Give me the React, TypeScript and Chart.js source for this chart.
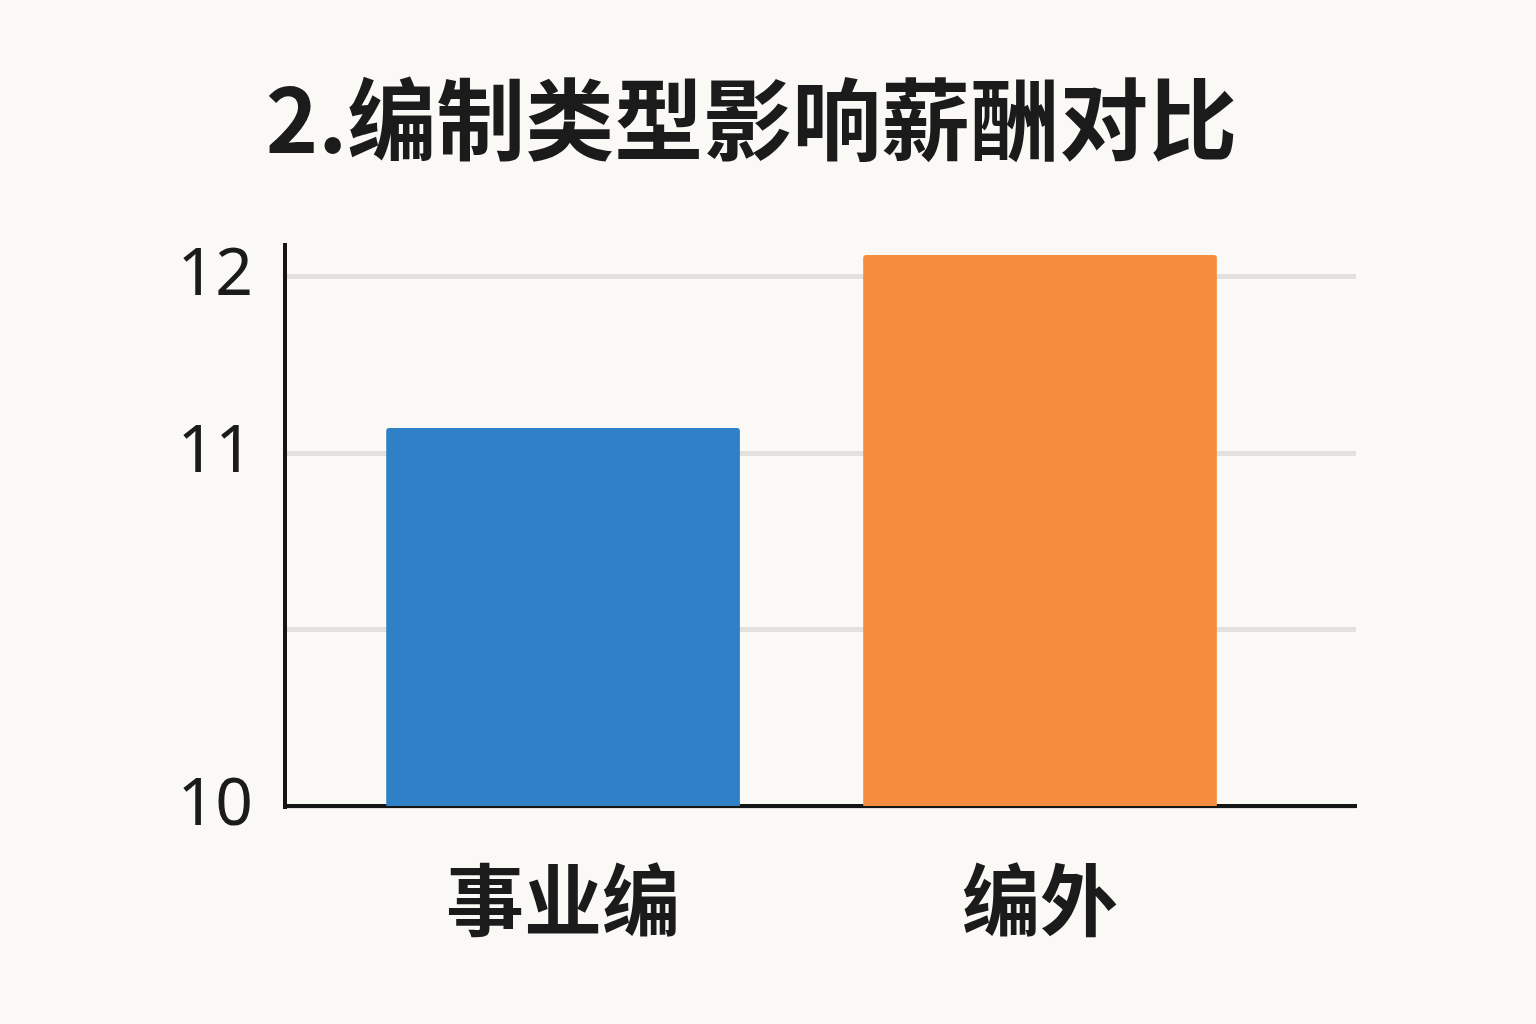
import { useEffect, useRef } from 'react'
import { Chart, registerables } from 'chart.js'

Chart.register(...registerables)

const TITLE = '2.编制类型影响薪酬对比'
const CATEGORIES = ['事业编', '编外']
const SALARY = [11.14, 12.12]
const BAR_COLORS = ['#2f81c7', '#f68c3d']
// the drawn axis starts one step below the "11" line but is labelled 10
const Y_TICKS = [9, 10, 11, 12]
const Y_TICK_LABELS = ['10', '', '11', '12']

const BG = '#faf9f5'
const INK = '#1b1b1b'

export default function App() {
  const canvasRef = useRef<HTMLCanvasElement>(null)
  const chartRef = useRef<Chart | null>(null)

  useEffect(() => {
    if (!canvasRef.current) return

    if (chartRef.current) {
      chartRef.current.destroy()
    }

    const background = {
      id: 'background',
      beforeDraw(chart: Chart) {
        const { ctx, width, height } = chart
        ctx.save()
        ctx.fillStyle = BG
        ctx.fillRect(0, 0, width, height)
        ctx.restore()
      }
    }

    chartRef.current = new Chart(canvasRef.current, {
      type: 'bar',
      data: {
        datasets: [
          {
            data: SALARY.map((v, i) => ({ x: i, y: v })),
            backgroundColor: BAR_COLORS,
            borderRadius: 3,
            barThickness: 353,
            yAxisID: 'y'
          }
        ]
      },
      options: {
        animation: false,
        responsive: false,
        devicePixelRatio: 1,
        layout: { padding: { top: 0, left: 0, right: 33, bottom: 0 } },
        scales: {
          y: {
            type: 'linear',
            position: 'left',
            min: 9,
            max: 12.18,
            afterFit: (scale: any) => {
              scale.width = 285
            },
            ticks: {
              stepSize: 1,
              includeBounds: false,
              padding: 32,
              color: INK,
              font: { family: '"Noto Sans", sans-serif', size: 66 },
              callback: (value: any) => {
                const i = Y_TICKS.indexOf(Number(value))
                return i >= 0 ? Y_TICK_LABELS[i] : ''
              }
            },
            grid: { color: '#e2e1dd', lineWidth: 5, drawTicks: false },
            border: { display: true, color: '#151515', width: 4 }
          },
          y2: {
            type: 'linear',
            position: 'right',
            afterFit: (scale: any) => {
              scale.width = 147
            },
            ticks: { display: false },
            grid: { display: false },
            border: { display: false }
          },
          x: {
            type: 'linear',
            offset: false,
            min: -0.583,
            max: 1.6625,
            z: 1,
            afterFit: (scale: any) => {
              scale.height = 218
            },
            ticks: {
              stepSize: 1,
              includeBounds: false,
              autoSkip: false,
              maxRotation: 0,
              padding: 48,
              color: INK,
              font: { family: '"Noto Sans CJK SC", sans-serif', size: 78, weight: 'bold' },
              callback: (value: any) => CATEGORIES[Number(value)] ?? ''
            },
            grid: { display: false, drawTicks: false, offset: false },
            border: { display: true, color: '#151515', width: 4 }
          }
        },
        plugins: {
          legend: { display: false },
          tooltip: { enabled: false },
          title: {
            display: true,
            text: TITLE,
            color: INK,
            font: { family: '"Noto Sans CJK SC", sans-serif', size: 89, weight: 'bold', lineHeight: 1.2 },
            padding: { top: 66, bottom: 72 }
          }
        }
      },
      plugins: [background]
    } as any)

    return () => {
      if (chartRef.current) {
        chartRef.current.destroy()
        chartRef.current = null
      }
    }
  }, [])

  return (
    <div style={{ position: 'fixed', left: 0, top: 0, width: 1536, height: 1024, background: BG }}>
      <canvas ref={canvasRef} width={1536} height={1024} style={{ display: 'block' }} />
    </div>
  )
}
